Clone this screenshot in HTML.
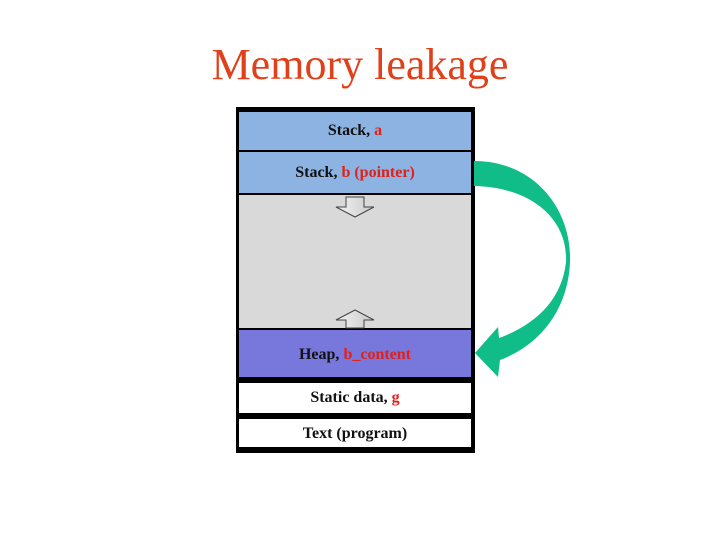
<!DOCTYPE html>
<html><head><meta charset="utf-8"><style>
html,body{margin:0;padding:0;background:#fff}
body{width:720px;height:540px;position:relative;overflow:hidden;font-family:"Liberation Serif",serif}
.t{position:absolute;left:0;width:720px;top:39px;text-align:center;font-size:44px;color:#e0401a;line-height:52px}
.seg{position:absolute;left:239px;width:232px;text-align:center;font-weight:bold;font-size:16px;color:#111}
.r{color:#e0201a}
</style></head><body>
<div class="t">Memory leakage</div>
<div style="position:absolute;left:236px;top:107px;width:239px;height:346px;background:#000"></div>
<div class="seg" style="top:112px;height:38px;line-height:38px;background:#8db3e2">Stack, <span class="r">a</span></div>
<div class="seg" style="top:152px;height:41px;line-height:41px;background:#8db3e2">Stack, <span class="r">b (pointer)</span></div>
<div class="seg" style="top:195px;height:133px;background:#d9d9d9"></div>
<div class="seg" style="top:330px;height:47px;line-height:50px;background:#7878dc">Heap, <span class="r">b_content</span></div>
<div class="seg" style="top:383px;height:30px;line-height:30px;background:#fff">Static data, <span class="r">g</span></div>
<div class="seg" style="top:419px;height:28px;line-height:30px;background:#fff">Text (program)</div>
<svg width="720" height="540" style="position:absolute;left:0;top:0">
<defs><linearGradient id="g" x1="0" y1="0" x2="1" y2="0"><stop offset="0" stop-color="#f4f4f4"/><stop offset="1" stop-color="#c8c8c8"/></linearGradient></defs>
<polygon points="346,197 364,197 364,207 374,207 355,217 336,207 346,207" fill="url(#g)" stroke="#444" stroke-width="1"/>
<polygon points="346,328 364,328 364,320 374,320 355,310 336,320 346,320" fill="url(#g)" stroke="#444" stroke-width="1"/>
<path d="M474,161 C535,161 572,210 570,262 C568,310 540,345 500,360 L498,377 L475,353 L498,327 L499,338 C535,325 562,300 566,262 C568,218 530,187 474,186 Z" fill="#10bc88"/>
</svg>
</body></html>
